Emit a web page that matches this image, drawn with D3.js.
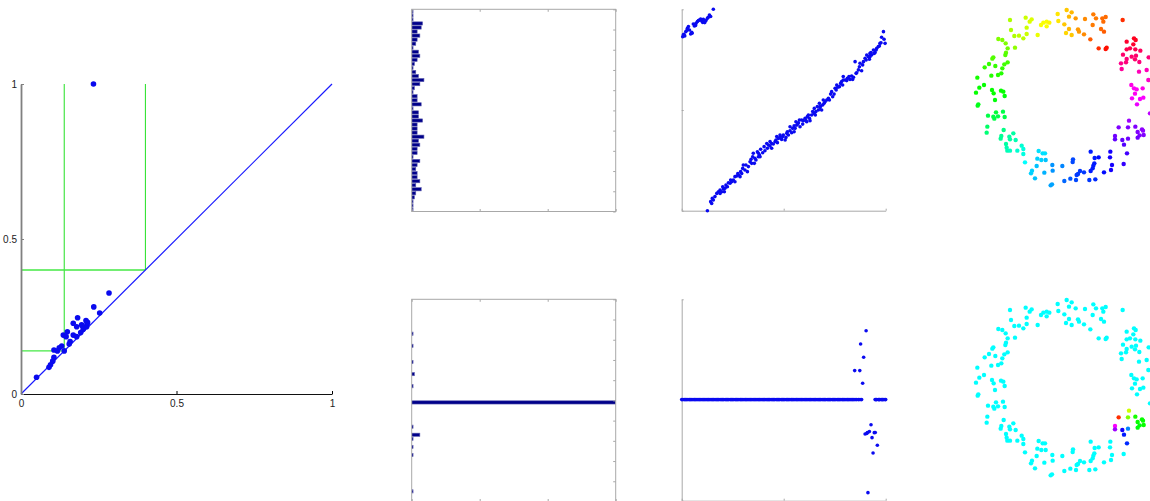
<!DOCTYPE html>
<html><head><meta charset="utf-8">
<script src="https://cdn.jsdelivr.net/npm/d3@7"></script>
<style>body{margin:0;background:#fff;} svg{display:block;font-family:"Liberation Sans",Arial,sans-serif;}</style>
</head><body><svg id="c" width="1150" height="501"></svg>
<script>
// ---------- persistence diagram ----------
const pdBirth = [0.233,0.283,0.234,0.253,0.182,0.168,0.195,0.209,0.213,0.211,0.179,0.200,0.192,0.149,0.168,0.179,0.136,0.145,0.158,0.155,0.131,0.123,0.106,0.117,0.139,0.106,0.102,0.095,0.090,0.050,0.214,0.197];
const pdDeath = [1.000,0.326,0.281,0.261,0.246,0.228,0.223,0.237,0.228,0.217,0.217,0.209,0.198,0.201,0.190,0.185,0.190,0.185,0.169,0.161,0.155,0.149,0.142,0.139,0.139,0.118,0.106,0.094,0.086,0.054,0.231,0.220];
const thresholds = [0.139, 0.40];
const pdTicks = [0, 0.5, 1];

// ---------- histograms (counts per bin of width 0.02, from value 0 upward) ----------
const binWidth = 0.02;
const histTop = [1,1,1,2,3,7,3,6,4,4,3,4,6,1,4,4,6,5,9,4,4,4,8,5,5,1,7,4,4,1,2,6,9,5,3,1,2,4,6,5,1,3,4,6,4,7,8,1,1,1];
const histBottom = [0,0,1,0,0,0,0,0,0,0,0,1,0,1,0,1,6,0,1,0,0,0,0,0,170,0,0,0,1,0,0,2,0,0,1,0,0,0,1,0,0,1,0,0,0,0,0,0,0,0];
const histMax = 150;
const histXTicks = [0, 50, 100, 150];

// ---------- top scatter: (position, circular coordinate) ----------
const scTopX = [0.005,0.011,0.020,0.008,0.028,0.038,0.044,0.049,0.057,0.062,0.070,0.077,0.087,0.093,0.098,0.103,0.106,0.113,0.119,0.126,0.136,0.142,0.155,0.033,0.051,0.015,0.025,0.068,0.082,0.110,0.130,
0.126,0.142,0.147,0.155,0.150,0.163,0.172,0.180,0.188,0.196,0.204,0.212,0.217,0.224,0.237,0.245,0.253,0.261,0.270,0.278,0.286,0.294,0.302,0.310,0.322,0.335,0.343,0.351,0.356,0.364,0.376,0.381,0.387,0.397,0.404,0.417,0.425,0.433,0.441,0.458,0.466,0.474,0.482,0.498,0.507,0.515,0.523,0.531,0.544,0.551,0.560,0.572,0.580,0.588,0.596,0.605,0.616,0.629,0.637,0.649,0.658,0.665,0.675,0.681,0.691,0.698,0.711,0.719,0.730,0.740,0.752,0.760,0.773,0.784,0.792,0.801,0.812,0.825,0.833,0.842,0.850,0.855,0.866,0.874,0.882,0.891,0.899,0.907,0.915,0.923,0.931,0.940,0.948,0.956,0.964,0.972,0.980,0.989,0.997,0.551,0.531,0.613,0.376,0.482,0.299,0.188,0.441,0.694,0.792,0.923,0.564,0.650,0.735,
0.201,0.209,0.229,0.240,0.261,0.275,0.289,0.315,0.327,0.340,0.348,0.359,0.371,0.384,0.408,0.420,0.433,0.449,0.462,0.469,0.490,0.495,0.511,0.518,0.539,0.556,0.569,0.577,0.593,0.609,0.621,0.626,0.642,0.655,0.670,0.678,0.686,0.703,0.724,0.747,0.757,0.765,0.779,0.789,0.809,0.820,0.838,0.858,0.871,0.887,0.904,0.920,0.928,0.943,0.953,0.969,0.977,0.992];
const scTopY = [0.864,0.876,0.889,0.873,0.906,0.897,0.877,0.886,0.927,0.917,0.930,0.939,0.947,0.952,0.942,0.935,0.950,0.934,0.944,0.955,0.972,0.964,1.000,0.914,0.881,0.868,0.895,0.920,0.944,0.940,0.960,
0.000,0.045,0.036,0.053,0.061,0.070,0.086,0.094,0.103,0.094,0.108,0.111,0.127,0.119,0.136,0.144,0.152,0.144,0.172,0.177,0.169,0.185,0.227,0.202,0.194,0.243,0.235,0.285,0.235,0.252,0.285,0.276,0.305,0.288,0.318,0.334,0.326,0.321,0.334,0.343,0.368,0.359,0.364,0.376,0.351,0.384,0.376,0.397,0.409,0.421,0.442,0.437,0.417,0.450,0.447,0.459,0.467,0.447,0.475,0.483,0.492,0.517,0.533,0.520,0.525,0.533,0.550,0.558,0.579,0.566,0.608,0.624,0.616,0.641,0.666,0.649,0.657,0.652,0.669,0.662,0.740,0.682,0.699,0.732,0.695,0.740,0.757,0.773,0.765,0.781,0.773,0.798,0.785,0.806,0.815,0.831,0.861,0.889,0.831,0.392,0.417,0.442,0.268,0.376,0.210,0.086,0.310,0.550,0.649,0.765,0.425,0.508,0.591,
0.119,0.094,0.139,0.152,0.169,0.185,0.194,0.227,0.219,0.255,0.268,0.260,0.293,0.268,0.298,0.310,0.343,0.331,0.351,0.338,0.354,0.368,0.364,0.392,0.387,0.409,0.430,0.450,0.430,0.447,0.475,0.459,0.492,0.475,0.500,0.513,0.500,0.541,0.550,0.579,0.599,0.613,0.632,0.624,0.646,0.666,0.652,0.685,0.715,0.724,0.748,0.752,0.785,0.781,0.798,0.818,0.834,0.851];

// ---------- bottom scatter ----------
const flatX = [0.000,0.013,0.025,0.038,0.050,0.063,0.075,0.088,0.100,0.113,0.125,0.138,0.150,0.163,0.175,0.188,0.200,0.213,0.225,0.238,0.250,0.263,0.275,0.288,0.300,0.313,0.325,0.338,0.350,0.363,0.375,0.388,0.400,0.413,0.425,0.438,0.450,0.463,0.475,0.488,0.500,0.513,0.525,0.538,0.550,0.563,0.575,0.588,0.600,0.613,0.625,0.638,0.650,0.663,0.675,0.688,0.700,0.713,0.725,0.738,0.750,0.763,0.775,0.788,0.800,0.813,0.825,0.838,0.850,0.858,0.866,0.874,0.882,0.948,0.956,0.964,0.972,0.980,0.988,0.996,1.000,
0.006,0.019,0.031,0.044,0.056,0.069,0.081,0.094,0.106,0.119,0.131,0.144,0.156,0.169,0.181,0.194,0.206,0.219,0.231,0.244,0.256,0.269,0.281,0.294,0.306,0.319,0.331,0.344,0.356,0.369,0.381,0.394,0.406,0.419,0.431,0.444,0.456,0.469,0.481,0.494,0.506,0.519,0.531,0.544,0.556,0.569,0.581,0.594,0.606,0.619,0.631,0.644,0.656,0.669,0.681,0.694,0.706,0.719,0.731,0.744,0.756,0.769,0.781,0.794,0.806,0.819,0.831,0.844,0.952,0.968,0.984];
const flatY = 0.502;
const outX = [0.904,0.877,0.892,0.848,0.873,0.887,0.928,0.899,0.910,0.920,0.944,0.949,0.933,0.959,0.938,0.913,0.907];
const outY = [0.844,0.778,0.712,0.646,0.646,0.583,0.377,0.331,0.338,0.343,0.338,0.339,0.313,0.275,0.237,0.040,0.334];

// ---------- ring point cloud: [x, y (down), hue top, hue bottom] ----------
const ringPts = [
[320,30,0.13,.5],[335,37,0.12,.5],[293,42,0.15,.5],[327,50,0.12,.5],[347,55,0.10,.5],[375,57,0.09,.5],[400,43,0.08,.5],[408,55,0.08,.5],[427,55,0.07,.5],[437,51,0.07,.5],[430,65,0.07,.5],[488,60,0.03,.5],[295,63,0.15,.5],[313,73,0.13,.5],[398,75,0.08,.5],[423,87,0.07,.5],[432,95,0.06,.5],[327,87,0.12,.5],[354,88,0.10,.5],[357,95,0.10,.5],[372,103,0.09,.5],[318,99,0.14,.5],[335,105,0.13,.5],[391,118,0.06,.5],[416,145,0.03,.5],[437,147,0.01,.5],[440,143,0.01,.5],
[197,53,0.20,.5],[215,58,0.19,.5],[209,65,0.19,.5],[150,60,0.22,.5],[250,68,0.17,.5],[260,65,0.17,.5],[268,68,0.16,.5],[243,75,0.17,.5],[260,79,0.17,.5],[200,83,0.20,.5],[153,90,0.22,.5],[233,105,0.18,.5],[200,102,0.20,.5],[177,107,0.21,.5],[163,108,0.22,.5],[190,115,0.21,.5],[115,117,0.25,.5],[127,120,0.25,.5],[137,130,0.25,.5],[143,145,0.26,.5],[165,143,0.24,.5],[138,158,0.27,.5],[136,165,0.28,.5],[100,172,0.28,.5],[97,176,0.28,.5],[143,187,0.29,.5],[133,193,0.29,.5],[87,192,0.30,.5],[106,198,0.30,.5],[74,202,0.30,.5],[127,205,0.30,.5],[124,220,0.31,.5],[114,225,0.31,.5],[94,227,0.31,.5],[52,233,0.32,.5],[72,255,0.33,.5],[58,263,0.33,.5],[96,270,0.33,.5],[101,280,0.33,.5],[123,272,0.33,.5],[130,275,0.33,.5],[134,288,0.34,.5],[48,278,0.33,.5],[105,300,0.34,.5],[55,313,0.35,.5],[53,317,0.35,.5],
[84,347,0.38,.5],[100,350,0.38,.5],[103,356,0.38,.5],[114,349,0.38,.5],[108,337,0.37,.5],[129,335,0.38,.5],[134,351,0.38,.5],[82,380,0.40,.5],[80,398,0.41,.5],[131,390,0.42,.5],[160,400,0.44,.5],[124,408,0.43,.5],[122,416,0.43,.5],[148,410,0.44,.5],[150,418,0.44,.5],[167,420,0.45,.5],[138,432,0.44,.5],[140,443,0.45,.5],[142,452,0.45,.5],[150,452,0.46,.5],[172,452,0.47,.5],[185,437,0.47,.5],[190,447,0.48,.5],[190,462,0.48,.5],[195,487,0.50,.5],
[236,453,0.52,.5],[248,460,0.52,.5],[255,460,0.52,.5],[232,476,0.53,.5],[244,480,0.53,.5],[257,480,0.54,.5],[230,498,0.54,.5],[216,512,0.53,.5],[213,520,0.53,.5],[253,518,0.55,.5],[225,535,0.54,.5],
[277,495,0.57,.5],[278,512,0.57,.5],[307,498,0.58,.5],[276,553,0.56,.5],[272,556,0.56,.5],[313,543,0.60,.5],
[331,536,0.61,.5],[348,540,0.62,.5],[339,478,0.62,.5],[338,486,0.62,.5],[354,522,0.63,.5],[360,513,0.63,.5],[350,525,0.63,.5],[372,517,0.63,.5],[388,540,0.63,.5],[406,538,0.64,.5],[392,513,0.65,.5],[398,505,0.65,.5],[400,497,0.65,.5],[404,474,0.65,.5],[392,455,0.65,.5],[416,472,0.66,.5],[403,490,0.65,.5],[432,517,0.66,.5],[453,510,0.68,.5],[456,495,0.68,.5],[450,472,0.68,.5],[451,455,0.68,.5],
[491,492,0.70,.5],[501,460,0.71,0.64],[465,408,0.74,0.83],[465,418,0.73,0.77],[476,382,0.75,0.03],[487,420,0.73,0.68],[492,434,0.72,0.65],[504,382,0.75,0.25],[507,362,0.77,0.20],[526,380,0.75,0.32],[533,396,0.75,0.33],[546,388,0.76,0.33],[549,392,0.76,0.33],[539,406,0.75,0.34],[533,413,0.74,0.34],[551,405,0.75,0.33],[504,416,0.74,0.58],
[570,340,0.79,.5],[531,313,0.82,.5],[516,295,0.83,.5],[540,297,0.83,.5],[525,281,0.84,.5],[550,293,0.83,.5],[522,265,0.84,.5],[548,265,0.85,.5],[514,255,0.85,.5],[530,268,0.84,.5],[560,210,0.88,.5],[537,215,0.88,.5],[565,240,0.87,.5],
[485,207,0.90,.5],[483,190,0.91,.5],[498,187,0.92,.5],[515,170,0.93,.5],[500,177,0.92,.5],[525,178,0.93,.5],[538,186,0.92,.5],[489,164,0.93,.5],[500,148,0.95,.5],[526,148,0.95,.5],[541,152,0.94,.5],[510,145,0.95,.5],[520,133,0.97,.5],[500,125,0.97,.5],[522,115,0.98,.5],[527,120,0.98,.5],[528,167,0.93,.5],[566,172,0.92,.5]
];

const svg = d3.select("#c");
const hue = h => d3.hsl(h * 360, 1, 0.5).toString();
const frameCol = "#a8a8a8";

// ===== Panel 1: persistence diagram =====
{
  const x = d3.scaleLinear([0, 1], [21, 332]);
  const y = d3.scaleLinear([0, 1], [394, 84]);
  const g = svg.append("g");
  thresholds.forEach(t => {
    g.append("line").attr("x1", x(t)).attr("x2", x(t)).attr("y1", y(1)).attr("y2", y(t))
      .attr("stroke", "#22e022").attr("stroke-width", 1);
    g.append("line").attr("x1", x(0)).attr("x2", x(t)).attr("y1", y(t)).attr("y2", y(t))
      .attr("stroke", "#44e844").attr("stroke-width", 1.4);
  });
  g.append("line").attr("x1", x(0)).attr("y1", y(0)).attr("x2", x(1)).attr("y2", y(1))
    .attr("stroke", "#1a1aff").attr("stroke-width", 1.2);
  g.selectAll("circle.pd").data(pdBirth).join("circle")
    .attr("cx", d => x(d)).attr("cy", (d, i) => y(pdDeath[i])).attr("r", 2.8).attr("fill", "#0a0aee");
  const ax = g.append("g").attr("transform", `translate(0,${y(0)})`)
    .call(d3.axisBottom(x).tickValues(pdTicks).tickFormat(d3.format("")).tickSize(-3).tickSizeOuter(0).tickPadding(4));
  ax.select(".domain").attr("stroke", "#111");
  ax.selectAll("text").attr("font-size", 10).attr("fill", "#222").attr("dy", "0.9em");
  const ay = g.append("g").attr("transform", `translate(${x(0)},0)`)
    .call(d3.axisLeft(y).tickValues(pdTicks).tickFormat(d3.format("")).tickSize(-3).tickSizeOuter(0).tickPadding(4));
  ay.select(".domain").attr("stroke", "#808080").attr("stroke-width", 1.8);
  ay.selectAll("line").attr("stroke", "#808080");
  ay.selectAll("text").attr("font-size", 10).attr("fill", "#222");
}

// ===== Panel 2: histograms =====
function histPanel(counts, top, bottom) {
  const x = d3.scaleLinear([0, histMax], [411.7, 615.7]);
  const y = d3.scaleLinear([0, 1], [bottom, top]);
  const g = svg.append("g");
  const id = "clip" + Math.round(top);
  g.append("clipPath").attr("id", id).append("rect")
    .attr("x", x(0)).attr("y", top).attr("width", x(histMax) - x(0)).attr("height", bottom - top);
  const bars = g.append("g").attr("clip-path", `url(#${id})`);
  bars.selectAll("rect").data(counts.map((c, i) => ({ c, i })).filter(d => d.c > 0)).join("rect")
    .attr("x", x(0))
    .attr("y", d => y((d.i + 1) * binWidth) + 0.4)
    .attr("width", d => x(Math.min(d.c, histMax)) - x(0))
    .attr("height", d => Math.max(0.5, y(d.i * binWidth) - y((d.i + 1) * binWidth) - 0.8))
    .attr("fill", "#00008a").attr("stroke", "#6060b0").attr("stroke-width", 0.6);
  g.append("rect").attr("x", x(0)).attr("y", top).attr("width", x(histMax) - x(0)).attr("height", bottom - top)
    .attr("fill", "none").attr("stroke", frameCol).attr("stroke-width", 1);
  const yt = d3.range(0, 11).map(k => k / 10);
  const style = s => { s.select(".domain").remove(); s.selectAll("line").attr("stroke", frameCol); s.selectAll("text").remove(); };
  g.append("g").attr("transform", `translate(${x(histMax)},0)`).call(d3.axisLeft(y).tickValues(yt).tickSize(2.5)).call(style);
  g.append("g").attr("transform", `translate(0,${top})`).call(d3.axisBottom(x).tickValues(histXTicks).tickSize(2.5)).call(style);
  g.append("g").attr("transform", `translate(0,${bottom})`).call(d3.axisTop(x).tickValues(histXTicks).tickSize(2.5)).call(style);
}
histPanel(histTop, 9.3, 211.5);
histPanel(histBottom, 299.3, 501.5);

// ===== Panel 3: scatters =====
function scatterPanel(xs, ys, top, bottom, r) {
  const x = d3.scaleLinear([0, 1], [681.7, 885.7]);
  const y = d3.scaleLinear([0, 1], [bottom, top]);
  const g = svg.append("g");
  const style = s => { s.select(".domain").attr("stroke", frameCol); s.selectAll("line").attr("stroke", frameCol); s.selectAll("text").remove(); };
  g.append("g").attr("transform", `translate(${x(0)},0)`).call(d3.axisRight(y).tickValues([0, 0.5, 1]).tickSize(2).tickSizeOuter(0)).call(style);
  g.append("g").attr("transform", `translate(0,${y(0)})`).call(d3.axisTop(x).tickValues([0, 0.5, 1]).tickSize(2).tickSizeOuter(0)).call(style);
  g.selectAll("circle").data(xs).join("circle")
    .attr("cx", d => x(d)).attr("cy", (d, i) => y(ys[i])).attr("r", r).attr("fill", "#0a0af0");
}
scatterPanel(scTopX, scTopY, 9.3, 210.7, 1.8);
scatterPanel(flatX.concat(outX), flatX.map(() => flatY).concat(outY), 299.3, 500.7, 1.8);

// ===== Panel 4: coloured rings =====
function ringPanel(hIdx, top) {
  const x = d3.scaleLinear([0, 570], [960, 1150]);
  const y = d3.scaleLinear([0, 600], [top, top + 200]);
  svg.append("g").selectAll("circle").data(ringPts).join("circle")
    .attr("cx", d => x(d[0])).attr("cy", d => y(d[1])).attr("r", 2.2).attr("fill", d => hue(d[hIdx]));
}
ringPanel(2, 0);
ringPanel(3, 290);
</script></body></html>
